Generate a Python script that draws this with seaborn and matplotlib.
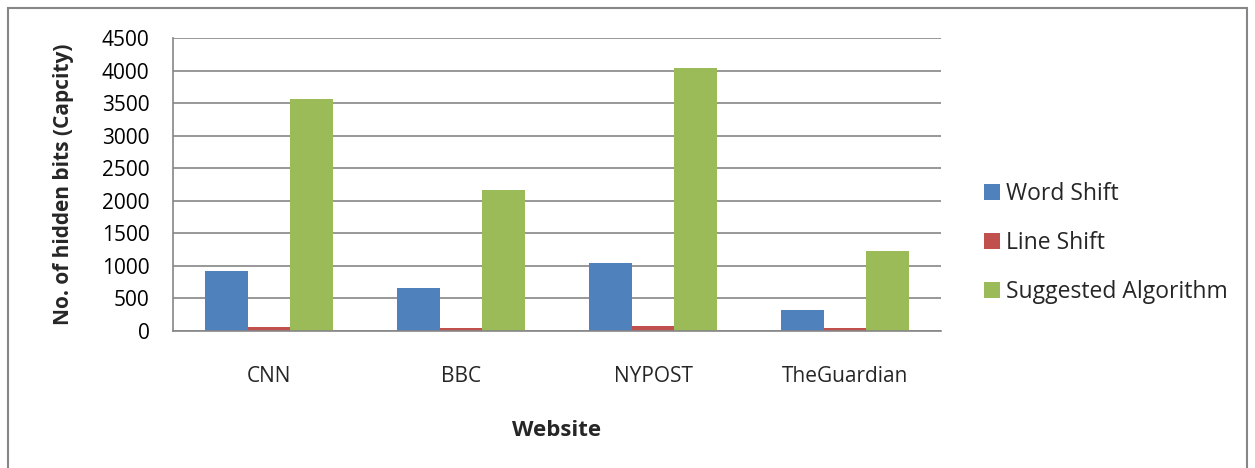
import matplotlib
matplotlib.use("Agg")
import matplotlib.pyplot as plt
import seaborn as sns
import pandas as pd
from matplotlib.patches import Rectangle, Patch

websites = ["CNN", "BBC", "NYPOST", "TheGuardian"]
series = ["Word Shift", "Line Shift", "Suggested Algorithm"]
word_shift = [920, 660, 1045, 320]
line_shift = [65, 50, 80, 48]
suggested = [3570, 2165, 4035, 1225]
colors = ["#4F81BD", "#C0504D", "#9BBB59"]
yticks = [0, 500, 1000, 1500, 2000, 2500, 3000, 3500, 4000, 4500]

rows = []
for name, vals in zip(series, [word_shift, line_shift, suggested]):
    for w, v in zip(websites, vals):
        rows.append({"Website": w, "Series": name, "Value": v})
df = pd.DataFrame(rows)

sns.set_style("white")
plt.rcParams["font.family"] = ["Open Sans", "DejaVu Sans"]

fig = plt.figure(figsize=(12.55, 4.68), dpi=100)
ax = fig.add_axes([173/1255, 1-331/468, (941-173)/1255, (331-38)/468])

sns.barplot(data=df, x="Website", y="Value", hue="Series", order=websites,
            hue_order=series, palette=colors, width=0.67, saturation=1,
            ax=ax, legend=False, linewidth=0)

grid_c = "#868686"
ax.set_ylim(0, 4500)
ax.set_xlim(-0.5, 3.5)
ax.set_yticks(yticks)
ax.set_yticklabels([str(t) for t in yticks], fontsize=15)
ax.yaxis.grid(True, color=grid_c, linewidth=1.2)
ax.set_axisbelow(True)
for s in ["top", "right"]:
    ax.spines[s].set_visible(False)
for s in ["left", "bottom"]:
    ax.spines[s].set_color(grid_c)
    ax.spines[s].set_linewidth(1.2)
ax.tick_params(axis="y", which="major", length=8, color=grid_c, width=1.2, pad=9, labelcolor="black")
ax.set_xticks(range(len(websites)))
ax.set_xticklabels(websites, fontsize=15)
ax.tick_params(axis="x", which="major", length=0, pad=25)
ax.set_xticks([-0.5, 0.5, 1.5, 2.5, 3.5], minor=True)
ax.tick_params(axis="x", which="minor", length=8, color=grid_c, width=1.2)

ax.set_xlabel("Website", fontsize=16, fontweight="bold", labelpad=24)
ax.set_ylabel("No. of hidden bits (Capcity)", fontsize=15, fontweight="bold", labelpad=20)

handles = [Patch(facecolor=c, edgecolor="none") for c in colors]
fig.legend(handles, series, loc="center left", bbox_to_anchor=(984/1255, 1-243/468),
           frameon=False, fontsize=16.5, handlelength=0.68, handleheight=0.68,
           handletextpad=0.3, labelspacing=1.1, borderpad=0, borderaxespad=0)

fig.patches.append(Rectangle((8/1255, -0.05), (1247-8)/1255, 1.05 - 8/468,
                             transform=fig.transFigure, fill=False,
                             edgecolor="#868686", linewidth=1.5))

fig.savefig("out.png", dpi=100, facecolor="white")
